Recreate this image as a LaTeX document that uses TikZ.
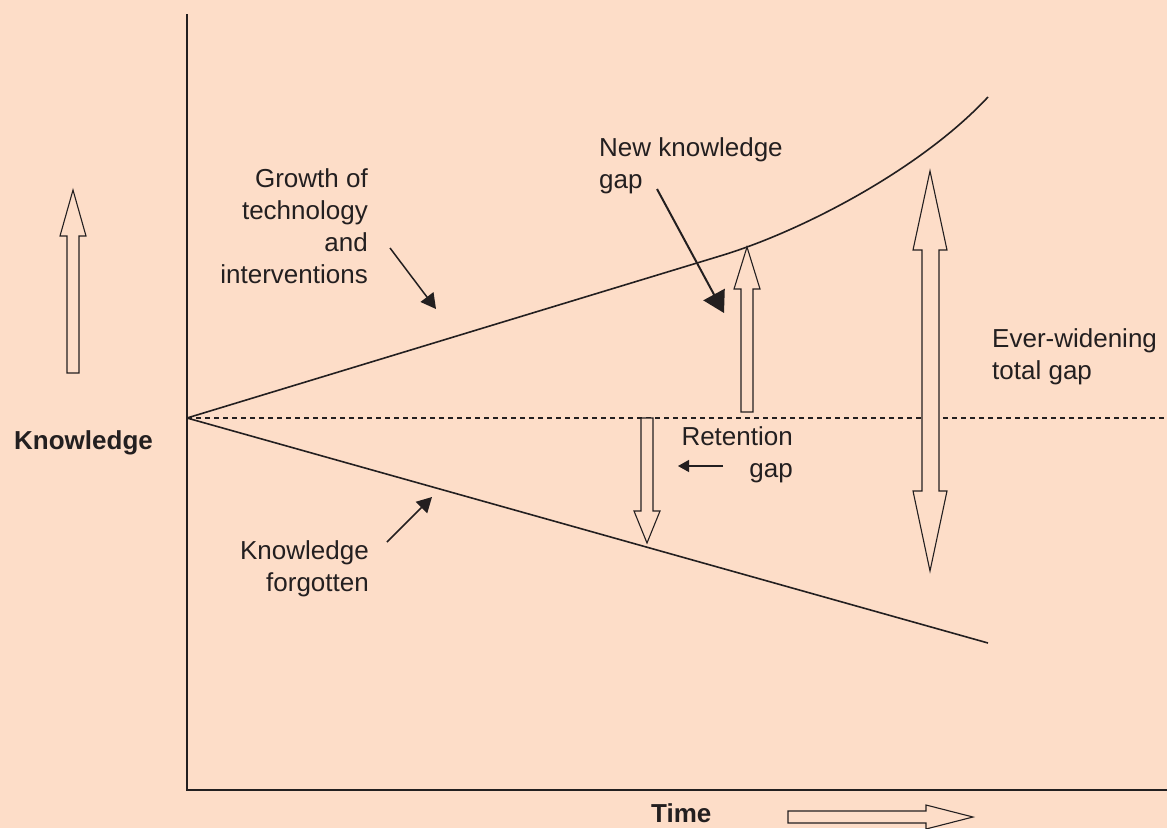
\documentclass[tikz,border=0pt]{standalone}
\usepackage{fontspec}
\setmainfont{Liberation Sans}
\usetikzlibrary{arrows.meta}
\definecolor{peach}{RGB}{253,221,200}
\definecolor{ink}{RGB}{35,31,32}

\begin{document}
\begin{tikzpicture}[
  x=1pt, y=-1pt,
  axis/.style={draw=ink, line width=1.6pt},
  hollow/.style={draw=ink, line width=1.1pt, fill=peach, line join=miter},
  ptr/.style={draw=ink, line width=1.5pt, -{Triangle[length=15pt,width=16pt]}},
  lbl/.style={text=ink, font=\fontsize{26}{32}\selectfont, inner sep=0pt},
  head/.style={lbl, font=\fontsize{26}{32}\selectfont\bfseries}
]
\fill [peach] (0,0) rectangle (1167,828);
\useasboundingbox (0,0) rectangle (1167,828);

% axes and the present level
\coordinate (top) at (187,14);
\coordinate (origin) at (187,790);
\coordinate (right) at (1167,790);
\coordinate (start) at (187,418);
\coordinate (level) at (1167,418);
\draw [axis] (top) -- (origin) -- (right);
\draw [draw=ink, line width=1.3pt, dash pattern=on 5pt off 4pt] (start) -- (level);

% growth and forgetting
\coordinate (bend) at (720,256);
\coordinate (growthend) at (988,97);
\coordinate (forgetend) at (988,643);
\draw [axis] (start) -- (bend) .. controls (800,232) and (920,170) .. (growthend);
\draw [axis] (start) -- (forgetend);

% hollow arrows
\draw [hollow] (67,373) -- (67,236) -- (60,236) -- (73,190) -- (86,236) -- (79,236) -- (79,373) -- cycle;
\draw [hollow] (741,412) -- (741,289) -- (734,289) -- (747,247) -- (760,289) -- (753,289) -- (753,412) -- cycle;
\draw [hollow] (641,418) -- (641,511) -- (634,511) -- (647,543) -- (660,511) -- (653,511) -- (653,418) -- cycle;
\draw [hollow] (922,250) -- (913,250) -- (930,171) -- (947,250) -- (939,250) -- (939,491) -- (947,491) -- (930,571) -- (913,491) -- (922,491) -- cycle;
\draw [hollow] (788,811) -- (926,811) -- (926,805) -- (973,817) -- (926,829) -- (926,823) -- (788,823) -- cycle;

% labels (base = last line)
\node [head, anchor=base west] (knowledge) at (14,449) {Knowledge};
\node [head, anchor=base west] (time) at (651,822) {Time};
\node [lbl, align=right, anchor=base east] (growth) at (368,283) {Growth of\\technology\\and\\interventions};
\node [lbl, align=left, anchor=base west] (newgap) at (599,188) {New knowledge\\gap};
\node [lbl, align=right, anchor=base east] (retention) at (793,477) {Retention\\gap};
\node [lbl, align=right, anchor=base east] (forgotten) at (369,591) {Knowledge\\forgotten};
\node [lbl, align=left, anchor=base west] (totalgap) at (992,379) {Ever-widening\\total gap};

% pointers
\coordinate (growthtail) at (390,248);
\coordinate (growthtip) at (436,309);
\coordinate (newtail) at (657,189);
\coordinate (newtip) at (724,313);
\coordinate (retaintail) at (723,466);
\coordinate (retaintip) at (678,466);
\coordinate (forgettail) at (387,542);
\coordinate (forgettip) at (432,497);
\draw [ptr] (growthtail) -- (growthtip);
\draw [ptr, line width=2pt, -{Triangle[length=21pt,width=24pt]}] (newtail) -- (newtip);
\draw [ptr, line width=1.2pt, -{Triangle[length=11pt,width=12pt]}] (retaintail) -- (retaintip);
\draw [ptr] (forgettail) -- (forgettip);
\end{tikzpicture}
\end{document}
